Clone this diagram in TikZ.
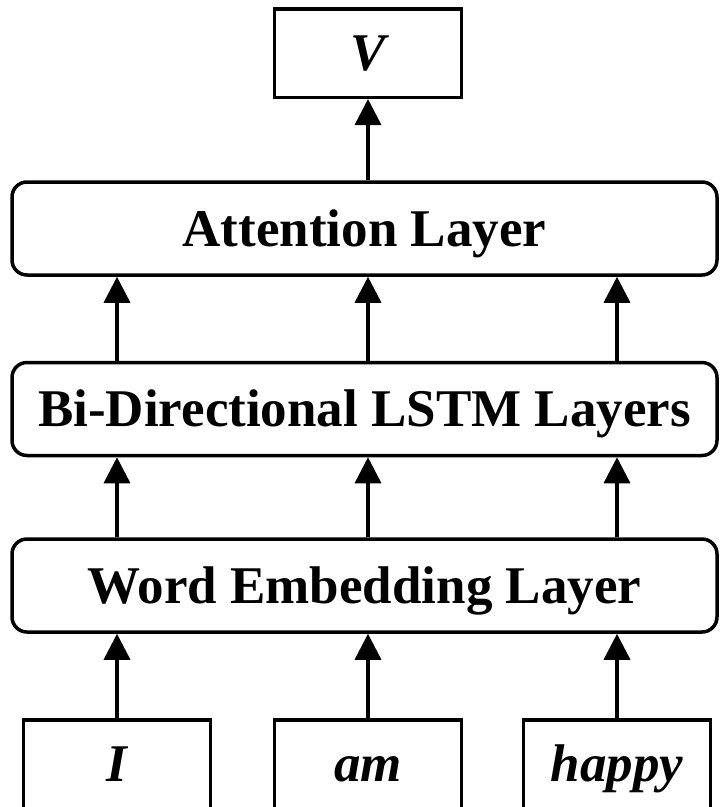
\documentclass[tikz,border=0pt]{standalone}
\usepackage{fontspec}
\setmainfont{Liberation Serif}
\usetikzlibrary{arrows.meta}

\begin{document}
\begin{tikzpicture}[x=1pt, y=-1pt,
  every node/.style={line width=3.5pt, inner sep=0pt, text height=35pt, text depth=0pt},
  layer/.style={draw, rounded corners=15pt, minimum width=705pt, minimum height=93pt,
    font=\fontsize{53}{60}\selectfont\bfseries},
  token/.style={draw, rectangle, minimum width=187pt, minimum height=88.5pt,
    font=\fontsize{53}{60}\selectfont\bfseries\itshape},
  flow/.style={line width=3.5pt, -{Triangle[length=26pt, width=26pt]}}
]
\useasboundingbox (0,0) rectangle (721,807);

% output vector
\node[token] (out) at (368,53) {V};

% stacked layers
\node[layer] (att)  at (364.5,228.5) {Attention Layer};
\node[layer] (lstm) at (364.5,409)   {Bi-Directional LSTM Layers};
\node[layer] (emb)  at (364.5,585.5) {Word Embedding Layer};

% input tokens
\node[token] (w1) at (117,764)   {I};
\node[token] (w2) at (368,764)   {am};
\node[token] (w3) at (617,764)   {happy};

% connectors
\draw[flow] (att.north -| out.south) -- (out.south);
\foreach \w in {w1,w2,w3} {
  \draw[flow] (\w.north) -- (emb.south -| \w.north);
  \draw[flow] (emb.north -| \w.north) -- (lstm.south -| \w.north);
  \draw[flow] (lstm.north -| \w.north) -- (att.south -| \w.north);
}
\end{tikzpicture}
\end{document}
